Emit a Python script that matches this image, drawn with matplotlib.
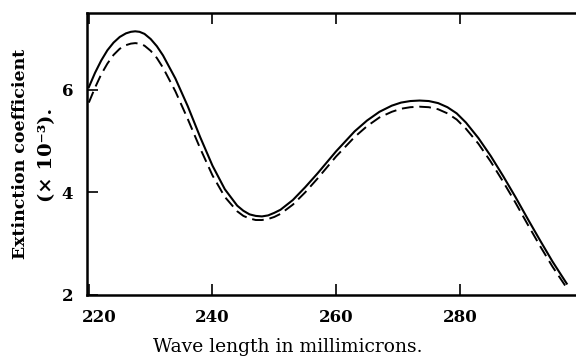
import matplotlib
matplotlib.use("Agg")
import matplotlib.pyplot as plt
from matplotlib.transforms import ScaledTranslation

# wave length (millimicrons) and extinction coefficient (x 10^-3)
wl_solid = [220, 221, 222, 223, 224, 225, 226, 226.8, 227.5, 228.2, 229, 230, 231, 232,
            234, 236, 238, 240, 242, 244, 245, 246, 247, 248, 249, 250, 251, 253, 255,
            257, 260, 263, 265, 267, 269, 270.5, 272, 273.5, 275, 276.5, 278, 279.5,
            281, 283, 285, 287, 289, 291, 293, 295, 297.3]
ext_solid = [6.05, 6.33, 6.57, 6.77, 6.92, 7.03, 7.1, 7.13, 7.14, 7.13, 7.09, 6.99,
             6.85, 6.67, 6.22, 5.68, 5.08, 4.52, 4.06, 3.74, 3.64, 3.57, 3.54, 3.53,
             3.55, 3.6, 3.66, 3.85, 4.1, 4.37, 4.8, 5.19, 5.4, 5.57, 5.69, 5.75, 5.78,
             5.79, 5.78, 5.74, 5.66, 5.54, 5.36, 5.06, 4.71, 4.32, 3.91, 3.48, 3.06,
             2.65, 2.22]

wl_dashed = [220, 221, 222, 223, 224, 225, 226, 226.8, 227.5, 228.2, 229, 230, 231, 232,
             234, 236, 238, 240, 242, 244, 245, 246, 247, 248, 249, 250, 251, 253, 255,
             257, 260, 263, 265, 267, 269, 270.5, 272, 273.5, 275, 276.5, 278, 279.5,
             281, 283, 285, 287, 289, 291, 293, 295, 297.5]
ext_dashed = [5.75, 6.04, 6.3, 6.51, 6.68, 6.8, 6.87, 6.9, 6.91, 6.9, 6.86, 6.76, 6.62,
              6.43, 5.97, 5.43, 4.86, 4.33, 3.91, 3.63, 3.54, 3.49, 3.46, 3.46, 3.48,
              3.52, 3.58, 3.76, 4.0, 4.27, 4.7, 5.08, 5.29, 5.46, 5.57, 5.63, 5.66, 5.67,
              5.66, 5.62, 5.54, 5.42, 5.24, 4.95, 4.6, 4.21, 3.8, 3.37, 2.95, 2.55, 2.1]

x_ticks = [220, 240, 260, 280]
y_ticks = [2, 4, 6]

plt.rcParams['font.family'] = ['DejaVu Serif']

fig = plt.figure(figsize=(5.76, 3.57), dpi=100)
ax = fig.add_axes([0.151, 0.174, 0.849, 0.79])

ax.plot(wl_solid, ext_solid, color='black', lw=1.5)
ax.plot(wl_dashed, ext_dashed, color='black', lw=1.4, dashes=(6, 3))

ax.set_xlim(219.7, 298.8)
ax.set_ylim(2, 7.5)
ax.set_xticks(x_ticks)
ax.set_yticks(y_ticks)
ax.tick_params(direction='in', length=8, width=1.2, top=True, labelsize=12, pad=10)
for lab in ax.get_xticklabels() + ax.get_yticklabels():
    lab.set_fontweight('bold')
# first x label sits a bit right of its tick, as in the original
first = ax.get_xticklabels()[0]
first.set_transform(first.get_transform() + ScaledTranslation(0.1, 0, fig.dpi_scale_trans))

for side in ['left', 'bottom', 'top']:
    ax.spines[side].set_linewidth(1.8)
ax.spines['right'].set_visible(False)

# the x label is centred on the page, not on the (cropped) axes
fig.text(0.5, 0.028, 'Wave length in millimicrons.', fontsize=13.5, ha='center', va='center')
fig.text(0.035, 0.568, 'Extinction coefficient', fontsize=12.5, fontweight='bold',
         rotation=90, ha='center', va='center')
fig.text(0.082, 0.565, '(× 10⁻³).', fontsize=14, fontweight='bold',
         rotation=90, ha='center', va='center')

fig.savefig('out.png', dpi=100)
plt.close(fig)
